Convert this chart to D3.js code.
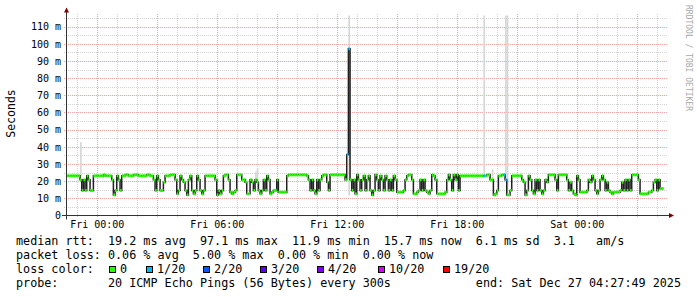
<!DOCTYPE html>
<html>
<head>
<meta charset="utf-8">
<script src="https://cdn.jsdelivr.net/npm/d3@7"></script>
<style>
  html, body { margin: 0; padding: 0; background: #fff; }
  svg text { font-family: "DejaVu Sans Mono", monospace; white-space: pre; }
</style>
</head>
<body>
<svg id="chart" width="697" height="297"></svg>
<script>
// ---- data ----
const endTime = new Date(2025, 11, 27, 4, 27, 49);
const firstStep = new Date(2025, 11, 25, 22, 25, 0);
const stepMinutes = 5;

// median rtt per 5 minute step, in ms
const median = [
  23.1,23.1,23.1,23.1,23.1,23.1,23.1,23.1,23.1,20.8,
  14.6,20.8,14.6,23.1,20.8,14.6,14.6,23.1,23.1,23.1,
  23.1,23.1,23.1,23.7,23.1,23.1,23.1,23.1,20.8,12.0,
  14.6,23.1,20.8,14.6,23.1,23.1,23.7,23.7,23.1,23.1,
  23.1,23.7,23.7,23.7,23.1,23.1,23.1,23.1,23.1,23.7,
  23.7,23.1,23.1,20.8,14.6,23.1,20.8,14.6,14.6,19.4,
  23.1,23.1,23.1,23.7,23.7,23.7,20.8,12.6,14.6,23.1,
  20.8,19.4,14.6,12.0,20.8,23.1,14.6,12.6,14.6,23.1,
  20.8,14.6,12.6,14.6,23.1,23.1,23.1,23.1,23.1,23.1,
  20.8,12.0,14.6,12.6,14.6,23.1,23.7,23.7,20.8,13.6,
  12.6,13.6,14.6,23.7,23.7,23.7,20.8,20.8,19.4,12.6,
  12.6,20.8,19.4,14.6,20.8,19.4,14.6,12.6,14.6,20.8,
  14.6,23.1,20.8,12.6,13.6,14.6,14.6,20.8,13.6,13.6,
  13.6,13.6,13.6,23.1,23.7,23.7,23.7,23.7,23.7,23.7,
  23.7,23.7,23.7,23.7,23.7,23.1,20.8,14.6,20.8,14.6,
  12.6,20.8,14.6,20.8,23.1,23.7,23.7,19.4,14.6,23.7,
  23.7,23.7,23.7,23.7,23.7,23.7,23.7,23.7,20.8,35.5,
  97.1,20.8,14.6,20.8,12.6,23.7,20.8,14.6,20.8,23.1,
  14.6,20.8,23.1,14.6,12.0,14.6,23.7,20.8,14.6,23.1,
  20.8,14.6,23.1,20.8,14.6,20.8,14.6,23.1,20.8,13.6,
  13.6,13.6,13.6,14.6,20.8,23.1,23.7,23.7,20.8,12.6,
  12.6,13.6,14.6,20.8,14.6,20.8,14.6,13.6,12.6,14.6,
  23.7,23.1,20.8,12.6,12.6,12.6,12.6,12.6,13.6,20.8,
  23.7,20.8,14.6,23.7,20.8,23.7,14.6,23.1,23.1,23.1,
  23.1,23.1,23.1,23.1,23.1,23.1,23.1,23.1,23.1,23.1,
  23.1,23.1,23.1,23.7,23.7,20.8,20.8,12.0,12.6,14.6,
  23.1,23.1,23.7,23.7,20.8,12.0,12.0,14.6,23.1,23.1,
  23.1,23.1,23.1,23.1,20.8,19.4,12.0,14.6,23.1,20.8,
  14.6,12.6,20.8,14.6,20.8,14.6,12.6,14.6,20.8,19.4,
  23.7,23.7,23.7,23.7,20.8,14.6,23.7,23.7,23.7,23.7,
  23.7,20.8,14.6,19.4,14.6,12.6,12.0,23.1,20.8,13.6,
  13.6,13.6,13.6,14.6,20.8,19.4,23.1,20.8,14.6,12.6,
  14.6,20.8,23.1,20.8,14.6,19.4,14.6,13.6,12.6,13.6,
  13.6,13.6,13.6,14.6,19.4,14.6,20.8,14.6,20.8,14.6,
  23.7,23.7,23.7,23.7,20.8,12.6,12.6,12.6,12.6,12.6,
  13.6,13.6,14.6,19.4,20.8,14.6,20.8,15.7,15.7
];

// steps with lost pings (out of 20)
const lossSteps  = [169, 170, 251, 263, 264];
const lossCounts = [1, 1, 1, 1, 1];

// visible smoke (spread of the 20 pings), ms
const smokeSteps = [9, 114, 115, 170, 251, 256, 264, 265, 273];
const smokeLow   = [23.1, 20.8, 19.4, 11.6, 23.1, 20.8, 20.8, 12.0, 23.1];
const smokeHigh  = [42.7, 25.5, 27.5, 200, 200, 27.0, 200, 200, 25.0];

const yMax = 116.5;
const yTicks = [0, 10, 20, 30, 40, 50, 60, 70, 80, 90, 100, 110];

const lossLevels = [0, 1, 2, 3, 4, 10, 19];
const lossLabels = ["0", "1/20", "2/20", "3/20", "4/20", "10/20", "19/20"];
const lossColors = ["#26ff00", "#00b8ff", "#0059ff", "#5e00ff", "#7e00ff", "#dd00ff", "#ff0000"];

const legendRtt   = "median rtt:  19.2 ms avg  97.1 ms max  11.9 ms min  15.7 ms now  6.1 ms sd  3.1   am/s";
const legendLoss  = "packet loss: 0.06 % avg  5.00 % max  0.00 % min  0.00 % now";
const legendProbe = "probe:       20 ICMP Echo Pings (56 Bytes) every 300s";
const legendEnd   = "end: Sat Dec 27 04:27:49 2025";

// ---- layout ----
const svg = d3.select("#chart");
const pLeft = 66, pRight = 666, pTop = 15.5, pBottom = 215.5;

const x = d3.scaleTime()
  .domain([d3.timeHour.offset(endTime, -30), endTime])
  .range([pLeft, pRight]);
const y = d3.scaleLinear().domain([0, yMax]).range([pBottom, pTop]);

const stepTime = i => d3.timeMinute.offset(firstStep, i * stepMinutes);
const lossColor = n => {
  let c = lossColors[0];
  lossLevels.forEach((lv, k) => { if (n >= lv) c = lossColors[k]; });
  return c;
};
const lossOf = i => {
  const k = lossSteps.indexOf(i);
  return k < 0 ? 0 : lossCounts[k];
};

svg.append("rect").attr("width", 697).attr("height", 297).attr("fill", "#fff");

svg.append("defs").append("clipPath").attr("id", "plot")
  .append("rect").attr("x", pLeft).attr("y", pTop)
  .attr("width", pRight - pLeft).attr("height", pBottom - pTop);

// ---- grid ----
const grid = svg.append("g").attr("shape-rendering", "crispEdges");
const minorY = d3.range(5, yMax, 5).filter(v => v % 10 !== 0);
grid.selectAll(".hmin").data(minorY).join("line")
  .attr("x1", pLeft - 2).attr("x2", pRight + 2)
  .attr("y1", d => Math.round(y(d)) + 0.5).attr("y2", d => Math.round(y(d)) + 0.5)
  .attr("stroke", "#d2d2d2").attr("stroke-dasharray", "1,1");
const hours = d3.timeHour.range(x.domain()[0], x.domain()[1]);
grid.selectAll(".vmin").data(hours.filter(d => d.getHours() % 3 !== 0)).join("line")
  .attr("x1", d => Math.round(x(d)) + 0.5).attr("x2", d => Math.round(x(d)) + 0.5)
  .attr("y1", pTop - 2).attr("y2", pBottom + 2)
  .attr("stroke", "#d2d2d2").attr("stroke-dasharray", "1,1");
grid.selectAll(".hmaj").data(yTicks.slice(1)).join("line")
  .attr("x1", pLeft - 2).attr("x2", pRight + 2)
  .attr("y1", d => Math.round(y(d)) + 0.5).attr("y2", d => Math.round(y(d)) + 0.5)
  .attr("stroke", "#eca4a4").attr("stroke-dasharray", "1,1");
grid.selectAll(".vmaj").data(hours.filter(d => d.getHours() % 3 === 0)).join("line")
  .attr("x1", d => Math.round(x(d)) + 0.5).attr("x2", d => Math.round(x(d)) + 0.5)
  .attr("y1", pTop - 2).attr("y2", pBottom + 2)
  .attr("stroke", "#eca4a4").attr("stroke-dasharray", "1,1");

// ---- data ----
const plot = svg.append("g").attr("clip-path", "url(#plot)");

plot.selectAll(".smoke").data(smokeSteps).join("rect")
  .attr("x", d => x(stepTime(d)))
  .attr("width", d => x(stepTime(d + 1)) - x(stepTime(d)))
  .attr("y", (d, k) => y(smokeHigh[k]))
  .attr("height", (d, k) => y(smokeLow[k]) - y(smokeHigh[k]))
  .attr("fill", "#d6d6d6");

const pts = median.map((v, i) => [stepTime(i), v]);
pts.push([stepTime(median.length), median[median.length - 1]]);
plot.append("path")
  .attr("d", d3.line().x(d => x(d[0])).y(d => y(d[1])).curve(d3.curveStepAfter)(pts))
  .attr("fill", "none").attr("stroke", "#202020").attr("stroke-width", 1.5);

// median band: +-1.5 px around the median, coloured by loss
const sw = 1.5 * yMax / (pBottom - pTop);
plot.selectAll(".band").data(median).join("rect")
  .attr("x", (d, i) => x(stepTime(i)))
  .attr("width", (d, i) => x(stepTime(i + 1)) - x(stepTime(i)))
  .attr("y", d => y(d + sw))
  .attr("height", d => y(d - sw) - y(d + sw))
  .attr("fill", (d, i) => lossColor(lossOf(i)));

// ---- axes ----
const yAxis = svg.append("g").attr("transform", `translate(${pLeft - 5},0)`)
  .call(d3.axisLeft(y).tickValues(yTicks).tickSize(0).tickPadding(0)
    .tickFormat(d => d === 0 ? "0" : d + " m"));
yAxis.select(".domain").remove();
yAxis.selectAll("text").attr("font-family", "DejaVu Sans Mono").attr("font-size", 10).attr("fill", "#000");

const xAxis = svg.append("g").attr("transform", `translate(0,${pBottom + 3})`)
  .call(d3.axisBottom(x).ticks(d3.timeHour.every(6)).tickSize(0).tickPadding(0)
    .tickFormat(d3.timeFormat("%a %H:%M")));
xAxis.select(".domain").remove();
xAxis.selectAll("text").attr("font-family", "DejaVu Sans Mono").attr("font-size", 10)
  .attr("fill", "#000").attr("dy", "0.9em");

svg.append("line").attr("x1", pLeft + 0.5).attr("x2", pLeft + 0.5)
  .attr("y1", pBottom + 4).attr("y2", pTop - 4).attr("stroke", "#333");
svg.append("line").attr("x1", pLeft - 4).attr("x2", pRight + 4)
  .attr("y1", pBottom).attr("y2", pBottom).attr("stroke", "#333");
svg.append("path").attr("d", `M${pLeft - 2},${pTop - 3}L${pLeft + 0.5},${pTop - 8}L${pLeft + 3},${pTop - 3}Z`)
  .attr("fill", "#7f0000");
svg.append("path").attr("d", `M${pRight + 3},${pBottom - 2.5}L${pRight + 8},${pBottom}L${pRight + 3},${pBottom + 2.5}Z`)
  .attr("fill", "#7f0000");

svg.append("text").attr("transform", `translate(15,${(pTop + pBottom) / 2 - 2}) rotate(-90)`)
  .attr("text-anchor", "middle").attr("font-size", 11.5).attr("fill", "#000").text("Seconds");

svg.append("text").attr("transform", "translate(685.5,5) rotate(90)")
  .attr("font-size", 8).attr("fill", "#a8a8a8").text("RRDTOOL / TOBI OETIKER");

// ---- legend ----
const leg = svg.append("g").attr("font-size", 11.75).attr("fill", "#000");
leg.append("text").attr("x", 16).attr("y", 245).text(legendRtt);
leg.append("text").attr("x", 16).attr("y", 259).text(legendLoss);
leg.append("text").attr("x", 16).attr("y", 273).text("loss color:");
leg.append("text").attr("x", 16).attr("y", 287).text(legendProbe);
leg.append("text").attr("x", 681).attr("y", 287).attr("text-anchor", "end").text(legendEnd);

const boxX = [109, 146, 203, 260, 317, 378, 443];
const items = leg.selectAll(".li").data(lossLabels).join("g")
  .attr("transform", (d, i) => `translate(${boxX[i]},0)`);
items.append("rect").attr("x", 0.5).attr("y", 266.5).attr("width", 6).attr("height", 6)
  .attr("fill", (d, i) => lossColors[i]).attr("stroke", "#000");
items.append("text").attr("x", 11).attr("y", 273).text(d => d);
</script>
</body>
</html>
